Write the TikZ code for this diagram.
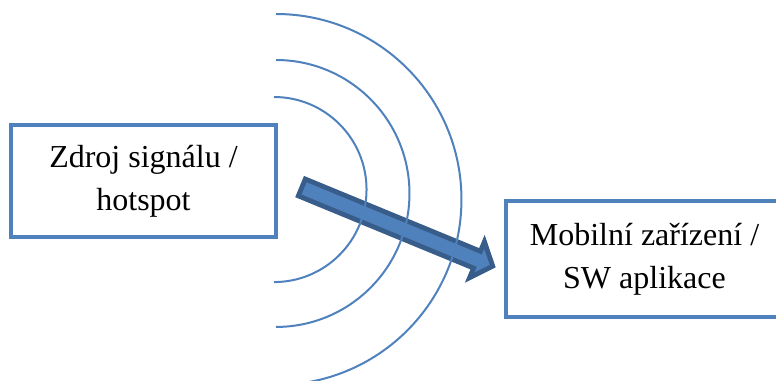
\documentclass[tikz,border=0pt]{standalone}
\usepackage{fontspec}
\setmainfont{Liberation Serif}
\definecolor{officeblue}{HTML}{4F81BD}
\definecolor{arrowedge}{HTML}{385D8A}
\begin{document}
\begin{tikzpicture}[x=0.75pt,y=0.75pt,
  box/.style={draw=officeblue, line width=3.3pt, fill=white, align=center,
    inner sep=0pt, font=\fontsize{24}{32.25}\selectfont},
  signal/.style={draw=officeblue, line width=1.5pt},
  blockarrow/.style={draw=arrowedge, fill=officeblue, line width=3.6pt, line join=miter}]
\useasboundingbox (0,0) rectangle (776,380);
\clip (0,0) rectangle (776,380);

% the two end points of the link
\node[box, minimum width=198.4pt, minimum height=83.8pt] (src) at (143.5,199)
  {Zdroj signálu /\\hotspot};
\node[box, minimum width=207.75pt, minimum height=87pt] (dev) at (644.5,121)
  {Mobilní zařízení /\\SW aplikace};

% thick block arrow pointing at the device
\begin{scope}[shift={(299.5,193.5)}, rotate=-22.4]
  \coordinate (tail) at (0,0);
  \coordinate (tip) at (209,0);
  \draw[blockarrow] (2.5,-9.1) -- (192,-9.1) -- (192,-19.5) -- (tip)
    -- (192,19.5) -- (192,9.1) -- (2.5,9.1) -- cycle;
\end{scope}

% radio waves spreading from the source
\draw[signal] (274,283) arc[start angle=90, end angle=-90, radius=69.4pt];
\draw[signal] (276,320) arc[start angle=90, end angle=-90, radius=100.1pt];
\draw[signal] (276,366) arc[start angle=90, end angle=-90, radius=139.1pt];
\end{tikzpicture}
\end{document}
